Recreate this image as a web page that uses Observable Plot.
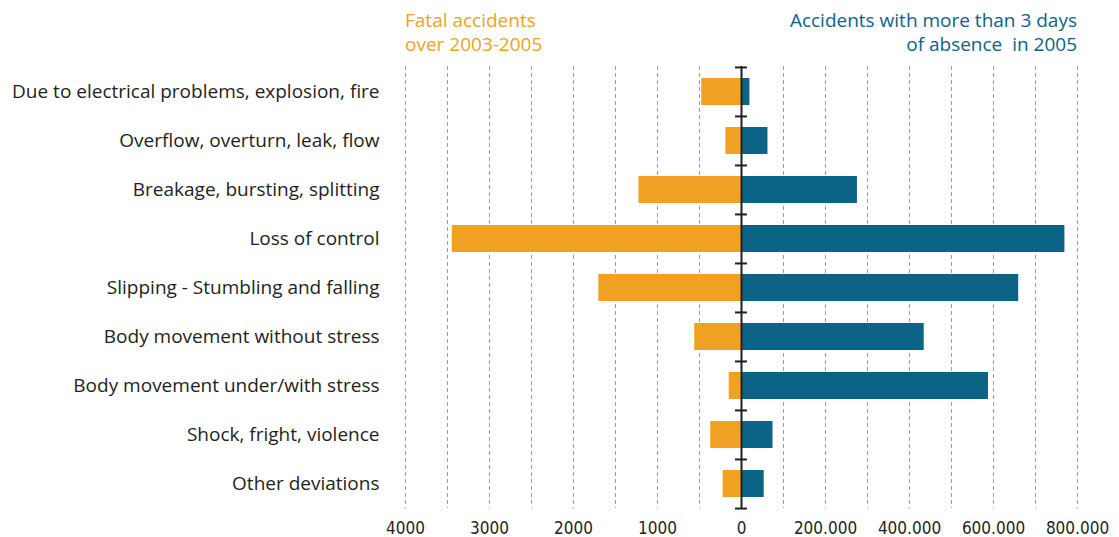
<!DOCTYPE html>
<html><head><meta charset="utf-8">
<script src="https://cdn.jsdelivr.net/npm/d3@7"></script>
<script src="https://cdn.jsdelivr.net/npm/@observablehq/plot@0.6"></script>
<style>
body{margin:0;background:#fff;}
#wrap{position:relative;width:1119px;height:537px;overflow:hidden;font-family:"Open Sans",sans-serif;}
.title{position:absolute;top:8px;font-size:19px;line-height:24px;white-space:nowrap;}
#left,#right{position:absolute;top:60px;}
#left{left:0;}
#right{left:721px;}
</style></head><body><div id="wrap">
<div class="title" style="left:405px;color:#F0A124">Fatal accidents<br>over 2003-2005</div>
<div class="title" style="right:42px;text-align:right;color:#0B6386">Accidents with more than 3 days<br>of absence&nbsp; in 2005</div>
<div id="left"></div><div id="right"></div>
</div>
<script>
const categories = [
  "Due to electrical problems, explosion, fire",
  "Overflow, overturn, leak, flow",
  "Breakage, bursting, splitting",
  "Loss of control",
  "Slipping - Stumbling and falling",
  "Body movement without stress",
  "Body movement under/with stress",
  "Shock, fright, violence",
  "Other deviations"
];
const fatal = [473, 186, 1221, 3443, 1699, 557, 146, 366, 219];
const absence = [20000, 63000, 276000, 770000, 660000, 435000, 588000, 75000, 54000];
const leftTicks = [4000, 3000, 2000, 1000, 0];
const leftTickLabels = ["4000", "3000", "2000", "1000", "0"];
const rightTicks = [200000, 400000, 600000, 800000];
const rightTickLabels = ["200.000", "400.000", "600.000", "800.000"];
const leftGrid = [500, 1000, 1500, 2000, 2500, 3000, 3500, 4000];
const rightGrid = [100000, 200000, 300000, 400000, 500000, 600000, 700000, 800000];

const data = categories.map((c, i) => ({cat: c, fatal: fatal[i], absence: absence[i]}));

const H = 477, MT = 6, MB = 29;
const step = (H - MT - MB) / categories.length;
const ORANGE = "#F0A124", BLUE = "#0B6386", INK = "#231f20", GRID = "#9d9d97";
const numFont = "'Liberation Sans Narrow', 'DejaVu Sans Condensed', sans-serif";
const yOpts = {domain: categories, paddingInner: 0.456, paddingOuter: 0.228, axis: null, label: null};

const left = Plot.plot({
  width: 745, height: H, marginLeft: 405, marginRight: 4, marginTop: MT, marginBottom: MB,
  style: {background: "transparent", overflow: "visible", color: INK, fontFamily: "'Open Sans', sans-serif"},
  x: {domain: [4000, 0], axis: null, label: null},
  y: yOpts,
  marks: [
    Plot.ruleX(leftGrid, {x: d => d, stroke: GRID, strokeDasharray: "4,3", strokeWidth: 1}),
    Plot.barX(data, {y: "cat", x1: 0, x2: "fatal", fill: ORANGE}),
    Plot.axisX({ticks: leftTicks, tickSize: 0, tickPadding: 13, fontSize: 17, fontFamily: numFont, fill: INK, label: null,
      tickFormat: d => leftTickLabels[leftTicks.indexOf(d)]}),
    Plot.axisY({tickSize: 0, tickPadding: 26, fontSize: 19, fill: INK, label: null})
  ]
});
document.getElementById("left").appendChild(left);

const tickHalf = 6 * 800000 / 336;
const right = Plot.plot({
  width: 398, height: H, marginLeft: 20, marginRight: 42, marginTop: MT, marginBottom: MB,
  style: {background: "transparent", overflow: "visible", color: INK},
  x: {domain: [0, 800000], axis: null, label: null},
  y: yOpts,
  marks: [
    Plot.ruleX(rightGrid, {x: d => d, stroke: GRID, strokeDasharray: "4,3", strokeWidth: 1}),
    Plot.barX(data, {y: "cat", x1: 0, x2: "absence", fill: BLUE}),
    Plot.ruleX([0], {stroke: INK, strokeWidth: 2}),
    Plot.ruleY(categories, {y: d => d, x1: -tickHalf, x2: tickHalf, dy: -step / 2, stroke: INK, strokeWidth: 2}),
    Plot.ruleY(categories.slice(-1), {y: d => d, x1: -tickHalf, x2: tickHalf, dy: step / 2, stroke: INK, strokeWidth: 2}),
    Plot.axisX({ticks: rightTicks, tickSize: 0, tickPadding: 13, fontSize: 17, fontFamily: numFont, fill: INK, label: null,
      tickFormat: d => rightTickLabels[rightTicks.indexOf(d)]})
  ]
});
document.getElementById("right").appendChild(right);
</script>
</body></html>
